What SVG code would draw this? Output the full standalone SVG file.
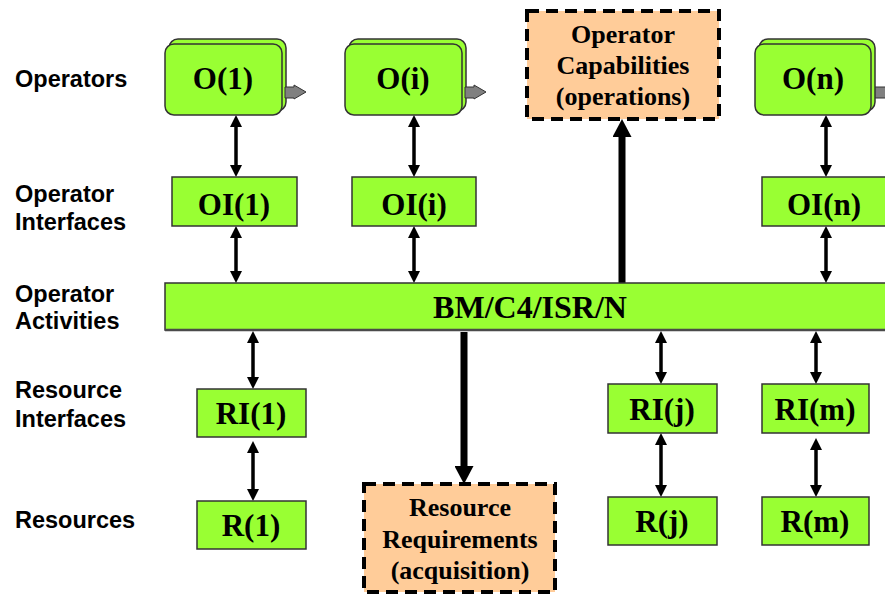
<svg xmlns="http://www.w3.org/2000/svg" width="885" height="595" viewBox="0 0 885 595">
<defs>
<style>
.lbl{font-family:"Liberation Sans",Arial,sans-serif;font-weight:bold;font-size:23.5px;fill:#000}
.nt{font-family:"Liberation Serif","Times New Roman",serif;font-weight:bold;font-size:31px;fill:#000;text-anchor:middle}
.bt{font-family:"Liberation Serif","Times New Roman",serif;font-weight:bold;font-size:32px;fill:#000;text-anchor:middle}
.dt{font-family:"Liberation Serif","Times New Roman",serif;font-weight:bold;font-size:26px;fill:#000;text-anchor:middle}
.g{fill:#99FF33;stroke:#333;stroke-width:1.5}
.dash{fill:#FFCC99;stroke:#000;stroke-width:4;stroke-dasharray:12 7}
.ga{fill:#808080;stroke:#333;stroke-width:1}
.dbl{stroke:#000;stroke-width:3.5;fill:none;marker-start:url(#ah);marker-end:url(#ah)}
.thick{stroke:#000;stroke-width:7;fill:none;marker-end:url(#bh)}
</style>
<marker id="ah" markerUnits="userSpaceOnUse" markerWidth="12" markerHeight="12" refX="2" refY="6" orient="auto-start-reverse" viewBox="0 0 12 12">
<path d="M0,0 L12,6 L0,12 z" fill="#000"/>
</marker>
<marker id="bh" markerUnits="userSpaceOnUse" markerWidth="18" markerHeight="19" refX="3" refY="9.5" orient="auto" viewBox="0 0 18 19">
<path d="M0,0 L18,9.5 L0,19 z" fill="#000"/>
</marker>
</defs>
<rect width="885" height="595" fill="#fff"/>

<g id="labels">
<text class="lbl" x="15" y="87">Operators</text>
<text class="lbl" x="15" y="202">Operator</text>
<text class="lbl" x="15" y="230">Interfaces</text>
<text class="lbl" x="15" y="302">Operator</text>
<text class="lbl" x="15" y="329">Activities</text>
<text class="lbl" x="15" y="398">Resource</text>
<text class="lbl" x="15" y="427">Interfaces</text>
<text class="lbl" x="15" y="528">Resources</text>
</g>

<g id="connectors">
<line class="dbl" x1="236" y1="125" x2="236" y2="167"/>
<line class="dbl" x1="236" y1="236" x2="236" y2="273"/>
<line class="dbl" x1="414" y1="125" x2="414" y2="167"/>
<line class="dbl" x1="414" y1="236" x2="414" y2="273"/>
<line class="dbl" x1="826" y1="125" x2="826" y2="167"/>
<line class="dbl" x1="826" y1="236" x2="826" y2="273"/>
<line class="dbl" x1="253" y1="341" x2="253" y2="379"/>
<line class="dbl" x1="253" y1="451" x2="253" y2="491"/>
<line class="dbl" x1="661" y1="341" x2="661" y2="374"/>
<line class="dbl" x1="661" y1="443" x2="661" y2="487"/>
<line class="dbl" x1="816" y1="341" x2="816" y2="374"/>
<line class="dbl" x1="816" y1="448" x2="816" y2="487"/>
<line class="thick" x1="464" y1="332" x2="464" y2="469"/>
<line class="thick" x1="622" y1="283" x2="622" y2="134"/>
</g>

<g id="O1">
<rect class="g" x="169" y="39" width="117" height="72" rx="9"/>
<rect class="g" x="165" y="44" width="117" height="71" rx="9"/>
<path class="ga" d="M285,87 L294,87 L294,85 L306,92 L294,99 L294,98 L285,98 z"/>
<text class="nt" x="223" y="89">O(1)</text>
</g>
<g id="Oi">
<rect class="g" x="349" y="39" width="117" height="72" rx="9"/>
<rect class="g" x="345" y="44" width="117" height="71" rx="9"/>
<path class="ga" d="M465,87 L474,87 L474,85 L486,92 L474,99 L474,98 L465,98 z"/>
<text class="nt" x="403" y="89">O(i)</text>
</g>
<g id="On">
<path class="ga" d="M874,87 L890,87 L890,98 L874,98 z"/>
<rect class="g" x="759" y="39" width="116" height="72" rx="9"/>
<rect class="g" x="755" y="44" width="116" height="71" rx="9"/>
<text class="nt" x="813" y="89">O(n)</text>
</g>

<g id="OpCap">
<rect class="dash" x="527" y="11" width="192" height="108"/>
<text class="dt" x="623" y="43">Operator</text>
<text class="dt" x="623" y="74">Capabilities</text>
<text class="dt" x="623" y="105">(operations)</text>
</g>

<g id="OI1">
<rect class="g" x="172" y="177" width="125" height="49"/>
<text class="nt" x="234" y="215">OI(1)</text>
</g>
<g id="OIi">
<rect class="g" x="352" y="177" width="124" height="49"/>
<text class="nt" x="414" y="215">OI(i)</text>
</g>
<g id="OIn">
<rect class="g" x="762" y="177" width="126" height="49"/>
<text class="nt" x="824" y="215">OI(n)</text>
</g>

<g id="BM">
<rect class="g" x="165" y="283" width="725" height="47"/>
<line x1="165" y1="330" x2="890" y2="330" stroke="#4a4a4a" stroke-width="2.5"/>
<text class="bt" x="530" y="318">BM/C4/ISR/N</text>
</g>

<g id="RI1">
<rect class="g" x="197" y="389" width="109" height="48"/>
<text class="nt" x="251" y="424">RI(1)</text>
</g>
<g id="R1">
<rect class="g" x="197" y="501" width="109" height="48"/>
<text class="nt" x="251" y="536">R(1)</text>
</g>
<g id="RIj">
<rect class="g" x="608" y="384" width="109" height="49"/>
<text class="nt" x="662" y="420">RI(j)</text>
</g>
<g id="Rj">
<rect class="g" x="608" y="497" width="109" height="48"/>
<text class="nt" x="662" y="532">R(j)</text>
</g>
<g id="RIm">
<rect class="g" x="762" y="384" width="107" height="49"/>
<text class="nt" x="815" y="420">RI(m)</text>
</g>
<g id="Rm">
<rect class="g" x="762" y="497" width="107" height="48"/>
<text class="nt" x="815" y="532">R(m)</text>
</g>

<g id="ResReq">
<rect class="dash" x="364" y="484" width="191" height="108"/>
<text class="dt" x="460" y="516">Resource</text>
<text class="dt" x="460" y="548">Requirements</text>
<text class="dt" x="460" y="579">(acquisition)</text>
</g>
</svg>
